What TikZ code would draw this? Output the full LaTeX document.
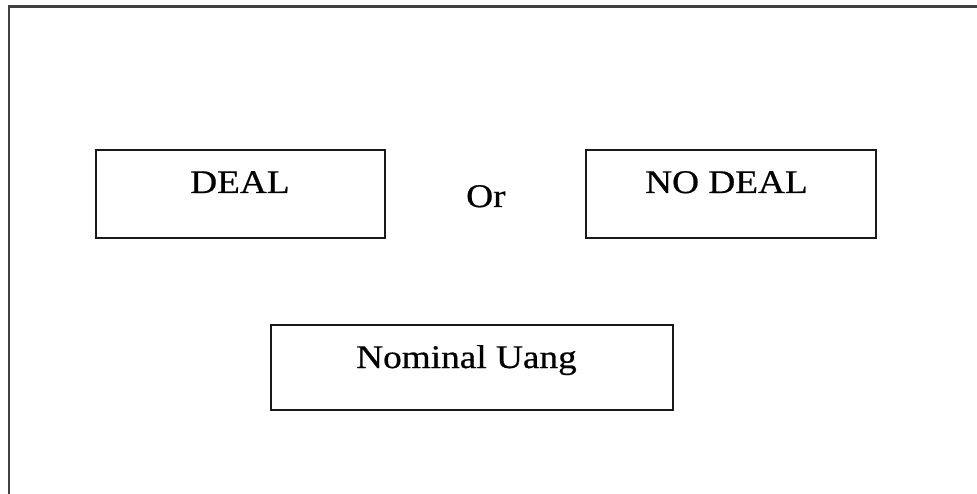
\documentclass[tikz,border=0pt]{standalone}
\usepackage{fontspec}
\setmainfont{Liberation Serif}[FakeStretch=1.13,FakeBold=0.6]
\begin{document}
\begin{tikzpicture}[x=1pt,y=-1pt,
  box/.style={draw=black!90, line width=2pt, rectangle, inner sep=0pt, anchor=north west},
  lbl/.style={anchor=base west, inner sep=0pt, font=\fontsize{33}{36}\selectfont},
  frame/.style={draw=black!75, line width=2.8pt}]
\useasboundingbox (0,0) rectangle (977,494);
\draw[frame] (9,520) -- (9,6.5) -- (1000,6.5);
\node[box, minimum width=289.5pt, minimum height=88pt] (deal) at (94.5,149.5) {};
\node[box, minimum width=290pt, minimum height=88pt] (nodeal) at (585,149.5) {};
\node[box, minimum width=402pt, minimum height=85.5pt] (uang) at (270,323.5) {};
\node[lbl] (tdeal) at (190,193) {DEAL};
\node[lbl] (tor) at (466,207) {Or};
\node[lbl] (tnodeal) at (645,193) {NO DEAL};
\node[lbl] (tuang) at (356,368) {Nominal Uang};
\end{tikzpicture}
\end{document}
